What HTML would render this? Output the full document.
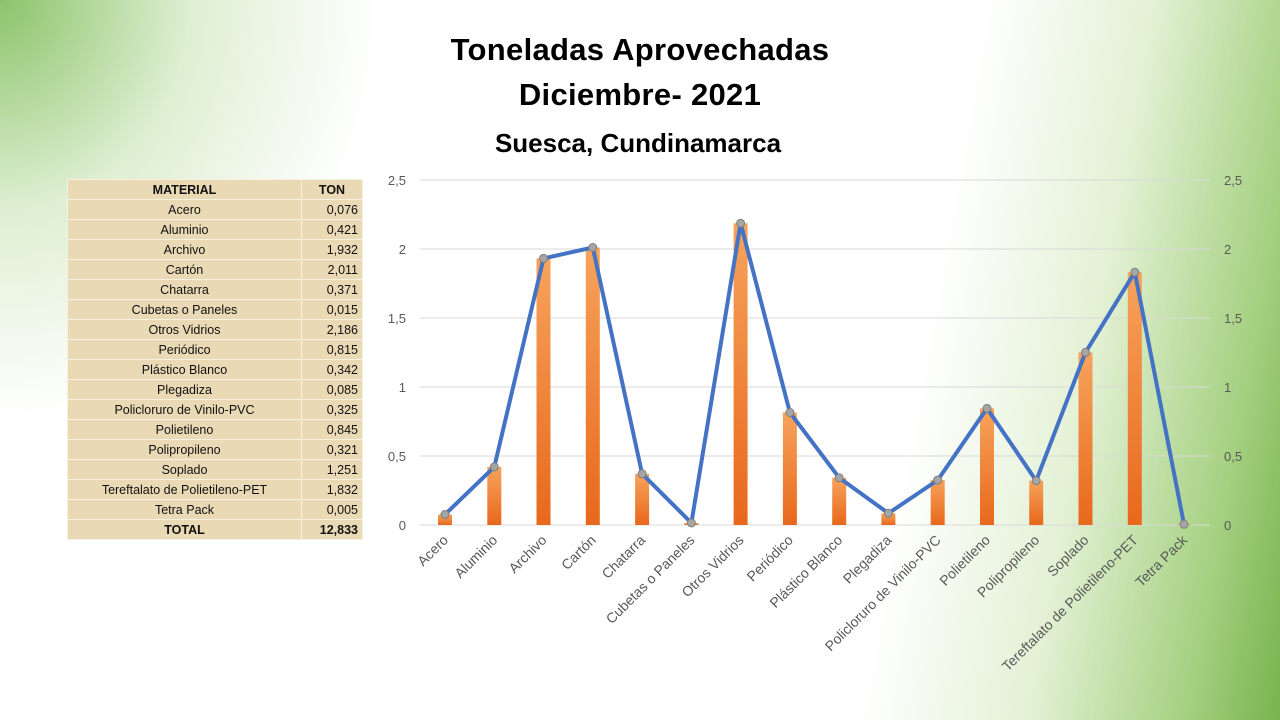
<!DOCTYPE html>
<html><head><meta charset="utf-8"><style>
body{margin:0;width:1280px;height:720px;overflow:hidden;font-family:"Liberation Sans",sans-serif;
background:
radial-gradient(ellipse 380px 420px at 0px 0px,#8cc46a 0%,rgba(200,228,180,0.6) 50%,rgba(255,255,255,0) 100%),
linear-gradient(100deg,rgba(255,255,255,0) 70%,rgba(215,235,195,0.7) 82%,#a6d182 93%,#78b44e 100%),
#fff;}
.t{position:absolute;left:0;width:1280px;text-align:center;font-weight:bold;color:#000}
table{position:absolute;left:67px;top:179px;border-collapse:collapse;background:#ead9b5;font-size:12.5px}
td{border:1px solid #f8f1e2;height:19px;padding:0 4px;text-align:center;color:#111}
td.n{text-align:right;width:52px}
</style></head><body>
<div class="t" style="top:32px;font-size:31px;letter-spacing:0.3px">Toneladas Aprovechadas</div>
<div class="t" style="top:77px;font-size:31px;letter-spacing:0.3px">Diciembre- 2021</div>
<div class="t" style="top:128px;font-size:26px;left:-2px">Suesca, Cundinamarca</div>
<table>
<tr><td style="width:225px"><b>MATERIAL</b></td><td style="width:52px"><b>TON</b></td></tr>
<tr><td>Acero</td><td class="n">0,076</td></tr>
<tr><td>Aluminio</td><td class="n">0,421</td></tr>
<tr><td>Archivo</td><td class="n">1,932</td></tr>
<tr><td>Cartón</td><td class="n">2,011</td></tr>
<tr><td>Chatarra</td><td class="n">0,371</td></tr>
<tr><td>Cubetas o Paneles</td><td class="n">0,015</td></tr>
<tr><td>Otros Vidrios</td><td class="n">2,186</td></tr>
<tr><td>Periódico</td><td class="n">0,815</td></tr>
<tr><td>Plástico Blanco</td><td class="n">0,342</td></tr>
<tr><td>Plegadiza</td><td class="n">0,085</td></tr>
<tr><td>Policloruro de Vinilo-PVC</td><td class="n">0,325</td></tr>
<tr><td>Polietileno</td><td class="n">0,845</td></tr>
<tr><td>Polipropileno</td><td class="n">0,321</td></tr>
<tr><td>Soplado</td><td class="n">1,251</td></tr>
<tr><td>Tereftalato de Polietileno-PET</td><td class="n">1,832</td></tr>
<tr><td>Tetra Pack</td><td class="n">0,005</td></tr>
<tr><td><b>TOTAL</b></td><td class="n"><b>12,833</b></td></tr>
</table>
<svg width="1280" height="720" style="position:absolute;left:0;top:0" font-family="Liberation Sans, sans-serif">
<defs><linearGradient id="g" x1="0" y1="0" x2="0" y2="1"><stop offset="0" stop-color="#f7a35c"/><stop offset="1" stop-color="#e8681c"/></linearGradient></defs>
<g stroke="#d9d9d9" stroke-width="1">
<line x1="420" y1="180" x2="1210" y2="180"/><line x1="420" y1="249" x2="1210" y2="249"/><line x1="420" y1="318" x2="1210" y2="318"/><line x1="420" y1="387" x2="1210" y2="387"/><line x1="420" y1="456" x2="1210" y2="456"/><line x1="420" y1="525" x2="1210" y2="525"/></g>
<g fill="#595959" font-size="13" text-anchor="end">
<text x="406" y="185">2,5</text><text x="406" y="254">2</text><text x="406" y="323">1,5</text><text x="406" y="392">1</text><text x="406" y="461">0,5</text><text x="406" y="530">0</text></g>
<g fill="#595959" font-size="13">
<text x="1224" y="185">2,5</text><text x="1224" y="254">2</text><text x="1224" y="323">1,5</text><text x="1224" y="392">1</text><text x="1224" y="461">0,5</text><text x="1224" y="530">0</text></g>
<g fill="url(#g)">
<rect x="438" y="514.5" width="14" height="10.5"/><rect x="487.3" y="466.9" width="14" height="58.1"/><rect x="536.5" y="258.4" width="14" height="266.6"/><rect x="585.8" y="247.5" width="14" height="277.5"/><rect x="635.1" y="473.8" width="14" height="51.2"/><rect x="684.4" y="522.9" width="14" height="2.1"/><rect x="733.6" y="223.3" width="14" height="301.7"/><rect x="782.9" y="412.5" width="14" height="112.5"/><rect x="832.2" y="477.8" width="14" height="47.2"/><rect x="881.4" y="513.3" width="14" height="11.7"/><rect x="930.7" y="480.1" width="14" height="44.9"/><rect x="980" y="408.4" width="14" height="116.6"/><rect x="1029.2" y="480.7" width="14" height="44.3"/><rect x="1078.5" y="352.4" width="14" height="172.6"/><rect x="1127.8" y="272.2" width="14" height="252.8"/><rect x="1177" y="524.3" width="14" height="0.7"/></g>
<polyline fill="none" stroke="#4472c4" stroke-width="4" stroke-linejoin="round" points="445,514.5 494.3,466.9 543.5,258.4 592.8,247.5 642.1,473.8 691.4,522.9 740.6,223.3 789.9,412.5 839.2,477.8 888.4,513.3 937.7,480.1 987,408.4 1036.2,480.7 1085.5,352.4 1134.8,272.2 1184,524.3"/>
<g fill="#a5a5a5" stroke="#7f7f7f" stroke-width="1">
<circle cx="445" cy="514.5" r="4"/><circle cx="494.3" cy="466.9" r="4"/><circle cx="543.5" cy="258.4" r="4"/><circle cx="592.8" cy="247.5" r="4"/><circle cx="642.1" cy="473.8" r="4"/><circle cx="691.4" cy="522.9" r="4"/><circle cx="740.6" cy="223.3" r="4"/><circle cx="789.9" cy="412.5" r="4"/><circle cx="839.2" cy="477.8" r="4"/><circle cx="888.4" cy="513.3" r="4"/><circle cx="937.7" cy="480.1" r="4"/><circle cx="987" cy="408.4" r="4"/><circle cx="1036.2" cy="480.7" r="4"/><circle cx="1085.5" cy="352.4" r="4"/><circle cx="1134.8" cy="272.2" r="4"/><circle cx="1184" cy="524.3" r="4"/></g>
<g fill="#595959" font-size="14" text-anchor="end">
<text transform="translate(449,541) rotate(-45)">Acero</text>
<text transform="translate(498.3,541) rotate(-45)">Aluminio</text>
<text transform="translate(547.5,541) rotate(-45)">Archivo</text>
<text transform="translate(596.8,541) rotate(-45)">Cartón</text>
<text transform="translate(646.1,541) rotate(-45)">Chatarra</text>
<text transform="translate(695.4,541) rotate(-45)">Cubetas o Paneles</text>
<text transform="translate(744.6,541) rotate(-45)">Otros Vidrios</text>
<text transform="translate(793.9,541) rotate(-45)">Periódico</text>
<text transform="translate(843.2,541) rotate(-45)">Plástico Blanco</text>
<text transform="translate(892.4,541) rotate(-45)">Plegadiza</text>
<text transform="translate(941.7,541) rotate(-45)">Policloruro de Vinilo-PVC</text>
<text transform="translate(991,541) rotate(-45)">Polietileno</text>
<text transform="translate(1040.2,541) rotate(-45)">Polipropileno</text>
<text transform="translate(1089.5,541) rotate(-45)">Soplado</text>
<text transform="translate(1138.8,541) rotate(-45)">Tereftalato de Polietileno-PET</text>
<text transform="translate(1188,541) rotate(-45)">Tetra Pack</text></g>
</svg>
</body></html>
